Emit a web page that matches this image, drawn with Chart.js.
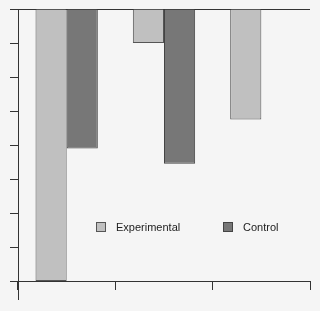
<!DOCTYPE html>
<html>
<head>
<meta charset="utf-8">
<script src="https://cdn.jsdelivr.net/npm/chart.js@4/dist/chart.umd.min.js"></script>
<style>
  html, body { margin: 0; padding: 0; background: #f5f5f5; }
  #wrap { width: 320px; height: 311px; }
</style>
</head>
<body>
<div id="wrap"><canvas id="chart" width="320" height="311"></canvas></div>
<script>
// Chart data
const categories = ['A', 'B', 'C'];
const experimental = [8, 1, 3.25];
const control = [4.1, 4.55, null];
const seriesNames = ['Experimental', 'Control'];
const yMin = 0;
const yMax = 8;

const lineColor = '#333333';

// draws the legend inside the plot area and extends the left axis below the x axis
const innerLegend = {
    id: 'innerLegend',
    afterDraw(chart) {
        const ctx = chart.ctx;
        const area = chart.chartArea;
        ctx.save();

        // left axis runs past the bottom axis
        ctx.strokeStyle = lineColor;
        ctx.lineWidth = 1;
        ctx.beginPath();
        ctx.moveTo(Math.round(area.left) + 0.5, area.bottom);
        ctx.lineTo(Math.round(area.left) + 0.5, area.bottom + 19);
        ctx.stroke();

        const spots = [0.267, 0.702];
        const cy = area.top + (area.bottom - area.top) * 0.80;
        ctx.font = '11px "Liberation Sans", Arial, sans-serif';
        ctx.textBaseline = 'middle';
        chart.data.datasets.forEach((ds, i) => {
            const x = Math.round(area.left + (area.right - area.left) * spots[i]);
            ctx.fillStyle = ds.backgroundColor;
            ctx.fillRect(x, Math.round(cy) - 5, 10, 10);
            ctx.strokeStyle = ds.borderColor;
            ctx.strokeRect(x + 0.5, Math.round(cy) - 4.5, 9, 9);
            ctx.fillStyle = '#222222';
            ctx.fillText(ds.label, x + 20, cy + 1);
        });
        ctx.restore();
    }
};

new Chart(document.getElementById('chart'), {
    type: 'bar',
    data: {
        labels: categories,
        datasets: [
            {
                label: seriesNames[0],
                data: experimental,
                backgroundColor: '#c0c0c0',
                borderColor: '#555555',
                borderWidth: 1
            },
            {
                label: seriesNames[1],
                data: control,
                backgroundColor: '#777777',
                borderColor: '#444444',
                borderWidth: 1
            }
        ]
    },
    options: {
        responsive: false,
        animation: false,
        layout: {
            padding: { left: 10, top: 9, right: 10, bottom: 21 }
        },
        categoryPercentage: 0.64,
        barPercentage: 1,
        plugins: {
            legend: { display: false },
            tooltip: { enabled: false }
        },
        scales: {
            x: {
                ticks: { display: false },
                grid: {
                    offset: true,
                    drawOnChartArea: false,
                    tickLength: 9,
                    color: lineColor
                },
                border: { display: true, color: lineColor }
            },
            y: {
                reverse: true,
                min: yMin,
                max: yMax,
                ticks: { display: false, stepSize: 1 },
                grid: {
                    tickLength: 8,
                    tickColor: lineColor,
                    color: ctx => (ctx.index === 0 || ctx.index === yMax) ? lineColor : 'transparent'
                },
                border: { display: true, color: lineColor }
            }
        }
    },
    plugins: [innerLegend]
});
</script>
</body>
</html>
